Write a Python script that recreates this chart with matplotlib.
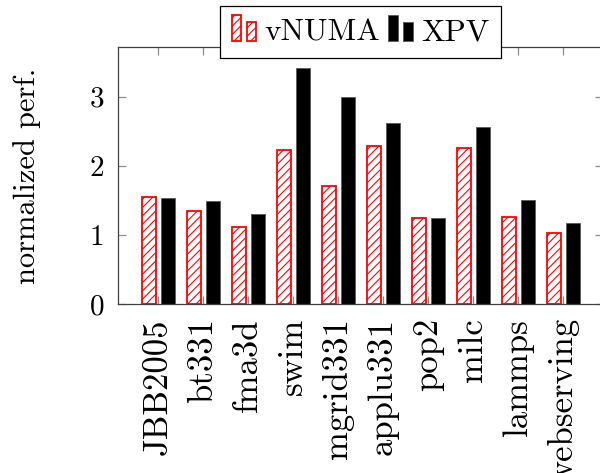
import matplotlib
matplotlib.use("Agg")
import matplotlib.pyplot as plt
from matplotlib.patches import Rectangle
from matplotlib.legend_handler import HandlerBase
import numpy as np

plt.rcParams['font.family'] = ['cmr10', 'DejaVu Serif']
plt.rcParams['axes.unicode_minus'] = False
plt.rcParams['mathtext.fontset'] = 'cm'
plt.rcParams['hatch.linewidth'] = 0.8

# Data
benchmarks = ['JBB2005', 'bt331', 'fma3d', 'swim', 'mgrid331', 'applu331',
              'pop2', 'milc', 'lammps', 'webserving']
vnuma = [1.55, 1.35, 1.11, 2.23, 1.71, 2.29, 1.24, 2.26, 1.26, 1.03]
xpv = [1.53, 1.49, 1.30, 3.41, 3.00, 2.62, 1.25, 2.56, 1.50, 1.17]
yticks = [0, 1, 2, 3]


class TwoBars(HandlerBase):
    # pgfplots-style ybar legend image: two small bars, second one shorter
    def create_artists(self, legend, orig_handle, xdescent, ydescent,
                       width, height, fontsize, trans):
        w = width * 0.38
        h = height * 1.2
        y0 = -ydescent - height * 0.05
        arts = []
        for x, hh in [(-xdescent, h), (-xdescent + width * 0.6, h * 0.75)]:
            r = Rectangle((x, y0), w, hh,
                          facecolor=orig_handle.get_facecolor(),
                          edgecolor=orig_handle.get_edgecolor(),
                          hatch=orig_handle.get_hatch(),
                          linewidth=orig_handle.get_linewidth(),
                          transform=trans)
            arts.append(r)
        return arts


fig = plt.figure(figsize=(6, 4.73), dpi=100)
ax = fig.add_axes([0.197, 0.357, 0.808, 0.544])

x = np.arange(len(benchmarks))
bw = 0.31
b1 = ax.bar(x - 0.2, vnuma, bw, facecolor='white', edgecolor='red',
            hatch='////', linewidth=1.3, label='vNUMA')
b2 = ax.bar(x + 0.22, xpv, bw, facecolor='black', edgecolor='0.35',
            linewidth=0.6, label='XPV')

ax.set_xlim(-0.89, 9.89)
ax.set_ylim(0, 3.72)
ax.set_xticks(x)
ax.set_xticklabels(benchmarks, rotation=90, fontsize=25)
ax.set_yticks(yticks)
ax.set_yticklabels([str(v) for v in yticks], fontsize=21)
ax.tick_params(axis='both', direction='in', top=True, right=True, length=6,
               color='0.55', width=0.9)
ax.tick_params(axis='x', pad=10)
ax.tick_params(axis='y', pad=10)
for s in ax.spines.values():
    s.set_color('0.25')
    s.set_linewidth(0.9)
ax.set_ylabel('normalized perf.', fontsize=22)
ax.yaxis.set_label_coords(-0.16, 0.5)

leg = fig.legend([b1.patches[0], b2.patches[0]], ['vNUMA', 'XPV'],
                 handler_map={Rectangle: TwoBars()},
                 loc='center', bbox_to_anchor=(0.601, 0.932), ncol=2,
                 fontsize=22.5, frameon=True, fancybox=False, framealpha=1,
                 edgecolor='black', handlelength=0.8, handletextpad=0.25,
                 columnspacing=0.25, borderpad=0.38, borderaxespad=0)
leg.get_frame().set_linewidth(0.9)

fig.savefig('out.png', dpi=100)
